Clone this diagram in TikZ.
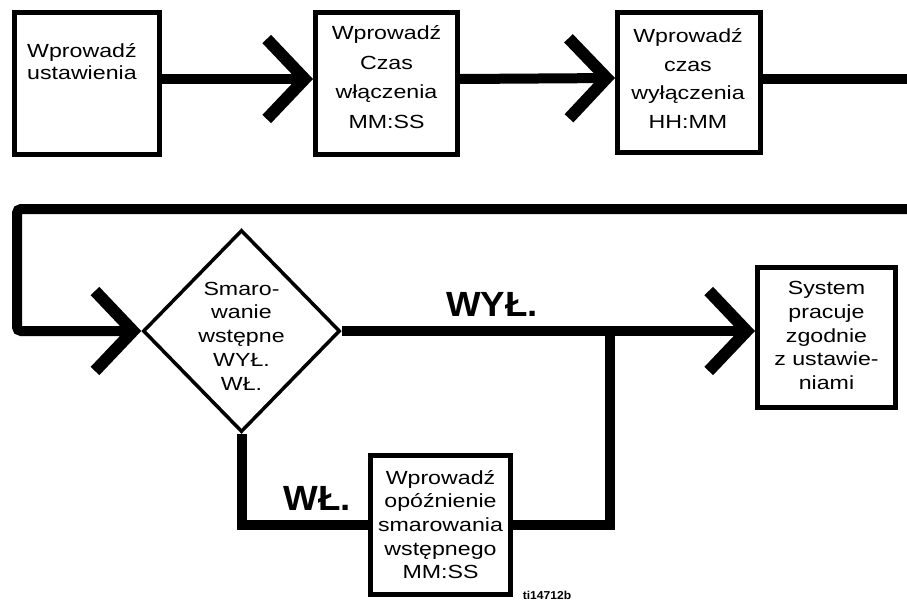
\documentclass[tikz,border=0pt]{standalone}
\usepackage{fontspec}
\setmainfont{Liberation Sans}[FakeStretch=1.22]
\newfontfamily\etiqfont{Liberation Sans}[FakeStretch=1.05]
\usetikzlibrary{arrows.meta,shapes.geometric}

\tikzset{
  boite/.style={draw, line width=5pt, inner sep=0pt},
  losange/.style={draw, diamond, line width=3.5pt, inner sep=0pt, minimum width=197pt, minimum height=202pt},
  texte/.style={inner sep=0pt, align=center, font=\fontsize{19}{23.7}\selectfont},
  trait/.style={line width=10pt},
  fleche/.style={trait, -{Straight Barb[length=38pt,width=80pt,line width=12pt]}},
  etiq/.style={inner sep=0pt, font=\etiqfont\bfseries\fontsize{35}{35}\selectfont},
}

\begin{document}
\begin{tikzpicture}[x=1pt, y=-1pt]
\useasboundingbox (0,0) rectangle (907,606);

% Premiere ligne : les trois cases
\node[boite, minimum width=145pt, minimum height=142pt] (reglages) at (87,83.5) {};
\node[texte, align=left, anchor=west, font=\fontsize{19}{22}\selectfont] (reglagestxt) at (27,62) {Wprowadź\\ustawienia};
\node[boite, minimum width=142pt, minimum height=142pt] (marche) at (386.5,83.5) {};
\node[texte, font=\fontsize{19}{29.5}\selectfont] (marchetxt) at (386.5,77) {Wprowadź\\Czas\\włączenia\\MM:SS};
\node[boite, minimum width=143pt, minimum height=140pt] (arret) at (689,82.5) {};
\node[texte, font=\fontsize{19}{28.7}\selectfont] (arrettxt) at (688,78.5) {Wprowadź\\czas\\wyłączenia\\HH:MM};

\coordinate (sortie) at (907,79);
\coordinate (retour) at (907,209);

\draw[fleche] ([yshift=4.5pt]reglages.east) -- ([yshift=4.5pt]marche.west);
\draw[fleche] ([yshift=4.5pt]marche.east) -- ([yshift=4.5pt]arret.west);
\draw[trait] ([yshift=3.5pt]arret.east) -- (sortie);

% Deuxieme ligne
\node[losange] (prelub) at (241.5,331) {};
\node[texte] (prelubtxt) at (241.5,336) {Smaro-\\wanie\\wstępne\\WYŁ.\\WŁ.};
\node[boite, minimum width=138pt, minimum height=140pt] (systeme) at (826.5,337.5) {};
\node[texte] (systemetxt) at (826.5,335.5) {System\\pracuje\\zgodnie\\z ustawie-\\niami};
\node[boite, minimum width=140pt, minimum height=139pt] (delai) at (440.5,524.5) {};
\node[texte] (delaitxt) at (440.5,524.5) {Wprowadź\\opóźnienie\\smarowania\\wstępnego\\MM:SS};

\coordinate (jonction) at (609.5,331);

\draw[fleche, rounded corners=4pt] (retour) -- (17,209) -- (17,331) -- (prelub.west);
\draw[fleche] (prelub.east) -- (prelub.east -| systeme.west);
\draw[trait] (prelub.south) |- (delai.west);
\draw[trait] (delai.east) -| (jonction);

% Etiquettes
\node[etiq, anchor=base] (wyl) at (492,316) {WYŁ.};
\node[etiq, anchor=base] (wl) at (317,510) {WŁ.};
\node[inner sep=0pt, anchor=base, font=\etiqfont\bfseries\fontsize{11.5}{11.5}\selectfont] (ref) at (547,599) {ti14712b};
\end{tikzpicture}
\end{document}
